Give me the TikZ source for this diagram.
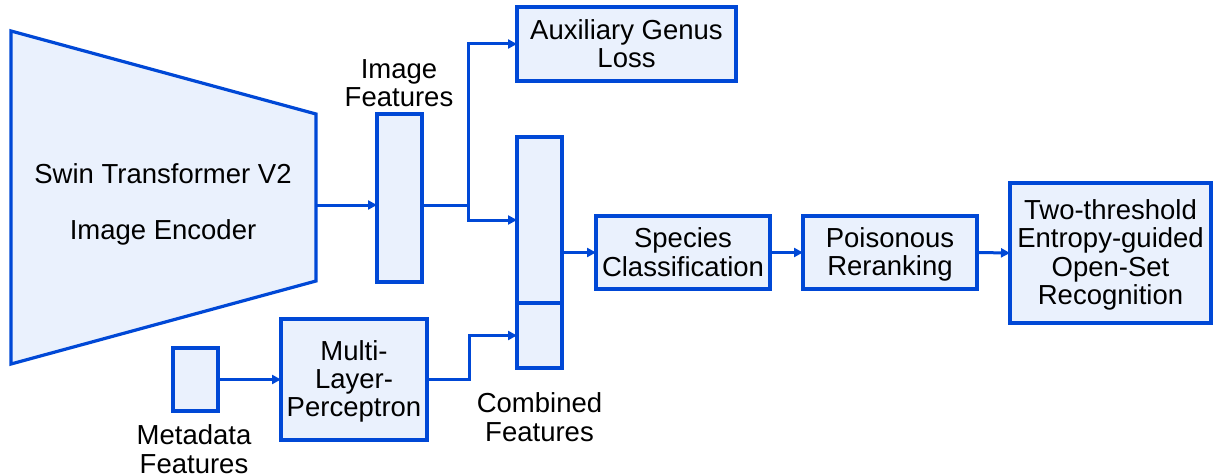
\documentclass[tikz,border=0pt]{standalone}
\usepackage{fontspec}
\setmainfont{Liberation Sans}
\usetikzlibrary{arrows.meta}
\definecolor{lineblue}{RGB}{0,72,214}
\definecolor{fillblue}{RGB}{234,241,253}
\newcommand{\mystrut}{\rule[-4.8pt]{0pt}{28.3pt}}
\newcommand{\boxfont}{\fontsize{27.5}{28.3}\selectfont\lineskiplimit=-50pt\relax}
\tikzset{
  box/.style={draw=lineblue, fill=fillblue, line width=3.2pt, inner sep=0pt, outer sep=0pt, align=center, font=\boxfont},
  lbl/.style={align=center, inner sep=0pt, font=\fontsize{27.5}{28.5}\selectfont},
  conn/.style={draw=lineblue, line width=3pt, -{Triangle[length=9pt,width=9pt]}},
  plain/.style={draw=lineblue, line width=3pt}
}
\begin{document}
\begin{tikzpicture}[x=1pt,y=-1pt]
\useasboundingbox (0,0) rectangle (1213,476);
% encoder trapezoid
\coordinate (e1) at (11,31);
\coordinate (e2) at (316,114);
\coordinate (e3) at (316,281);
\coordinate (e4) at (11,364);
\coordinate (encR) at (316,205);
\draw[draw=lineblue, fill=fillblue, line width=3.2pt, line join=miter] (e1) -- (e2) -- (e3) -- (e4) -- cycle;
\node[lbl] (enc1) at (163,174) {Swin Transformer V2};
\node[lbl] (enc2) at (163,232) {Image Encoder};

% boxes
\node[box, minimum width=45pt, minimum height=168pt] (imgf) at (399.5,198) {};
\node[box, minimum width=219pt, minimum height=74pt] (aux) at (626.5,44) {\mystrut Auxiliary Genus\\\mystrut Loss};
\node[box, minimum width=45pt, minimum height=166pt] (combtop) at (539.5,220) {};
\node[box, minimum width=45pt, minimum height=65pt] (combbot) at (539.5,335.5) {};
\node[box, minimum width=45pt, minimum height=63pt] (meta) at (195.5,379.5) {};
\node[box, minimum width=146pt, minimum height=121pt] (mlp) at (354,379.5) {\mystrut Multi-\\\mystrut Layer-\\\mystrut Perceptron};
\node[box, minimum width=174pt, minimum height=73pt] (spec) at (683,252.5) {\mystrut Species\\\mystrut Classification};
\node[box, minimum width=174pt, minimum height=73pt] (pois) at (890,252.5) {\mystrut Poisonous\\\mystrut Reranking};
\node[box, minimum width=201pt, minimum height=140pt] (osr) at (1110.5,253) {\mystrut Two-threshold\\\mystrut Entropy-guided\\\mystrut Open-Set\\\mystrut Recognition};

% labels
\node[lbl] (imgfl) at (399,83) {Image\\Features};
\node[lbl] (combl) at (539.5,417) {Combined\\Features};
\node[lbl] (metal) at (194,449) {Metadata\\Features};

% connectors
\coordinate (j) at (468,205);
\coordinate (k) at (469,379.5);
\draw[conn] (encR) -- (encR -| imgf.west);
\draw[plain] (j -| imgf.east) -- (j);
\draw[conn] (j) |- (aux.west);
\draw[conn] (j) |- (combtop.west);
\draw[conn] (spec.west -| combtop.east) -- (spec.west);
\draw[conn] (meta.east) -- (mlp.west);
\draw[conn] (mlp.east) -- (k) |- (combbot.west);
\draw[conn] (spec.east) -- (pois.west);
\draw[conn] (pois.east) -- (osr.west);
\end{tikzpicture}
\end{document}
